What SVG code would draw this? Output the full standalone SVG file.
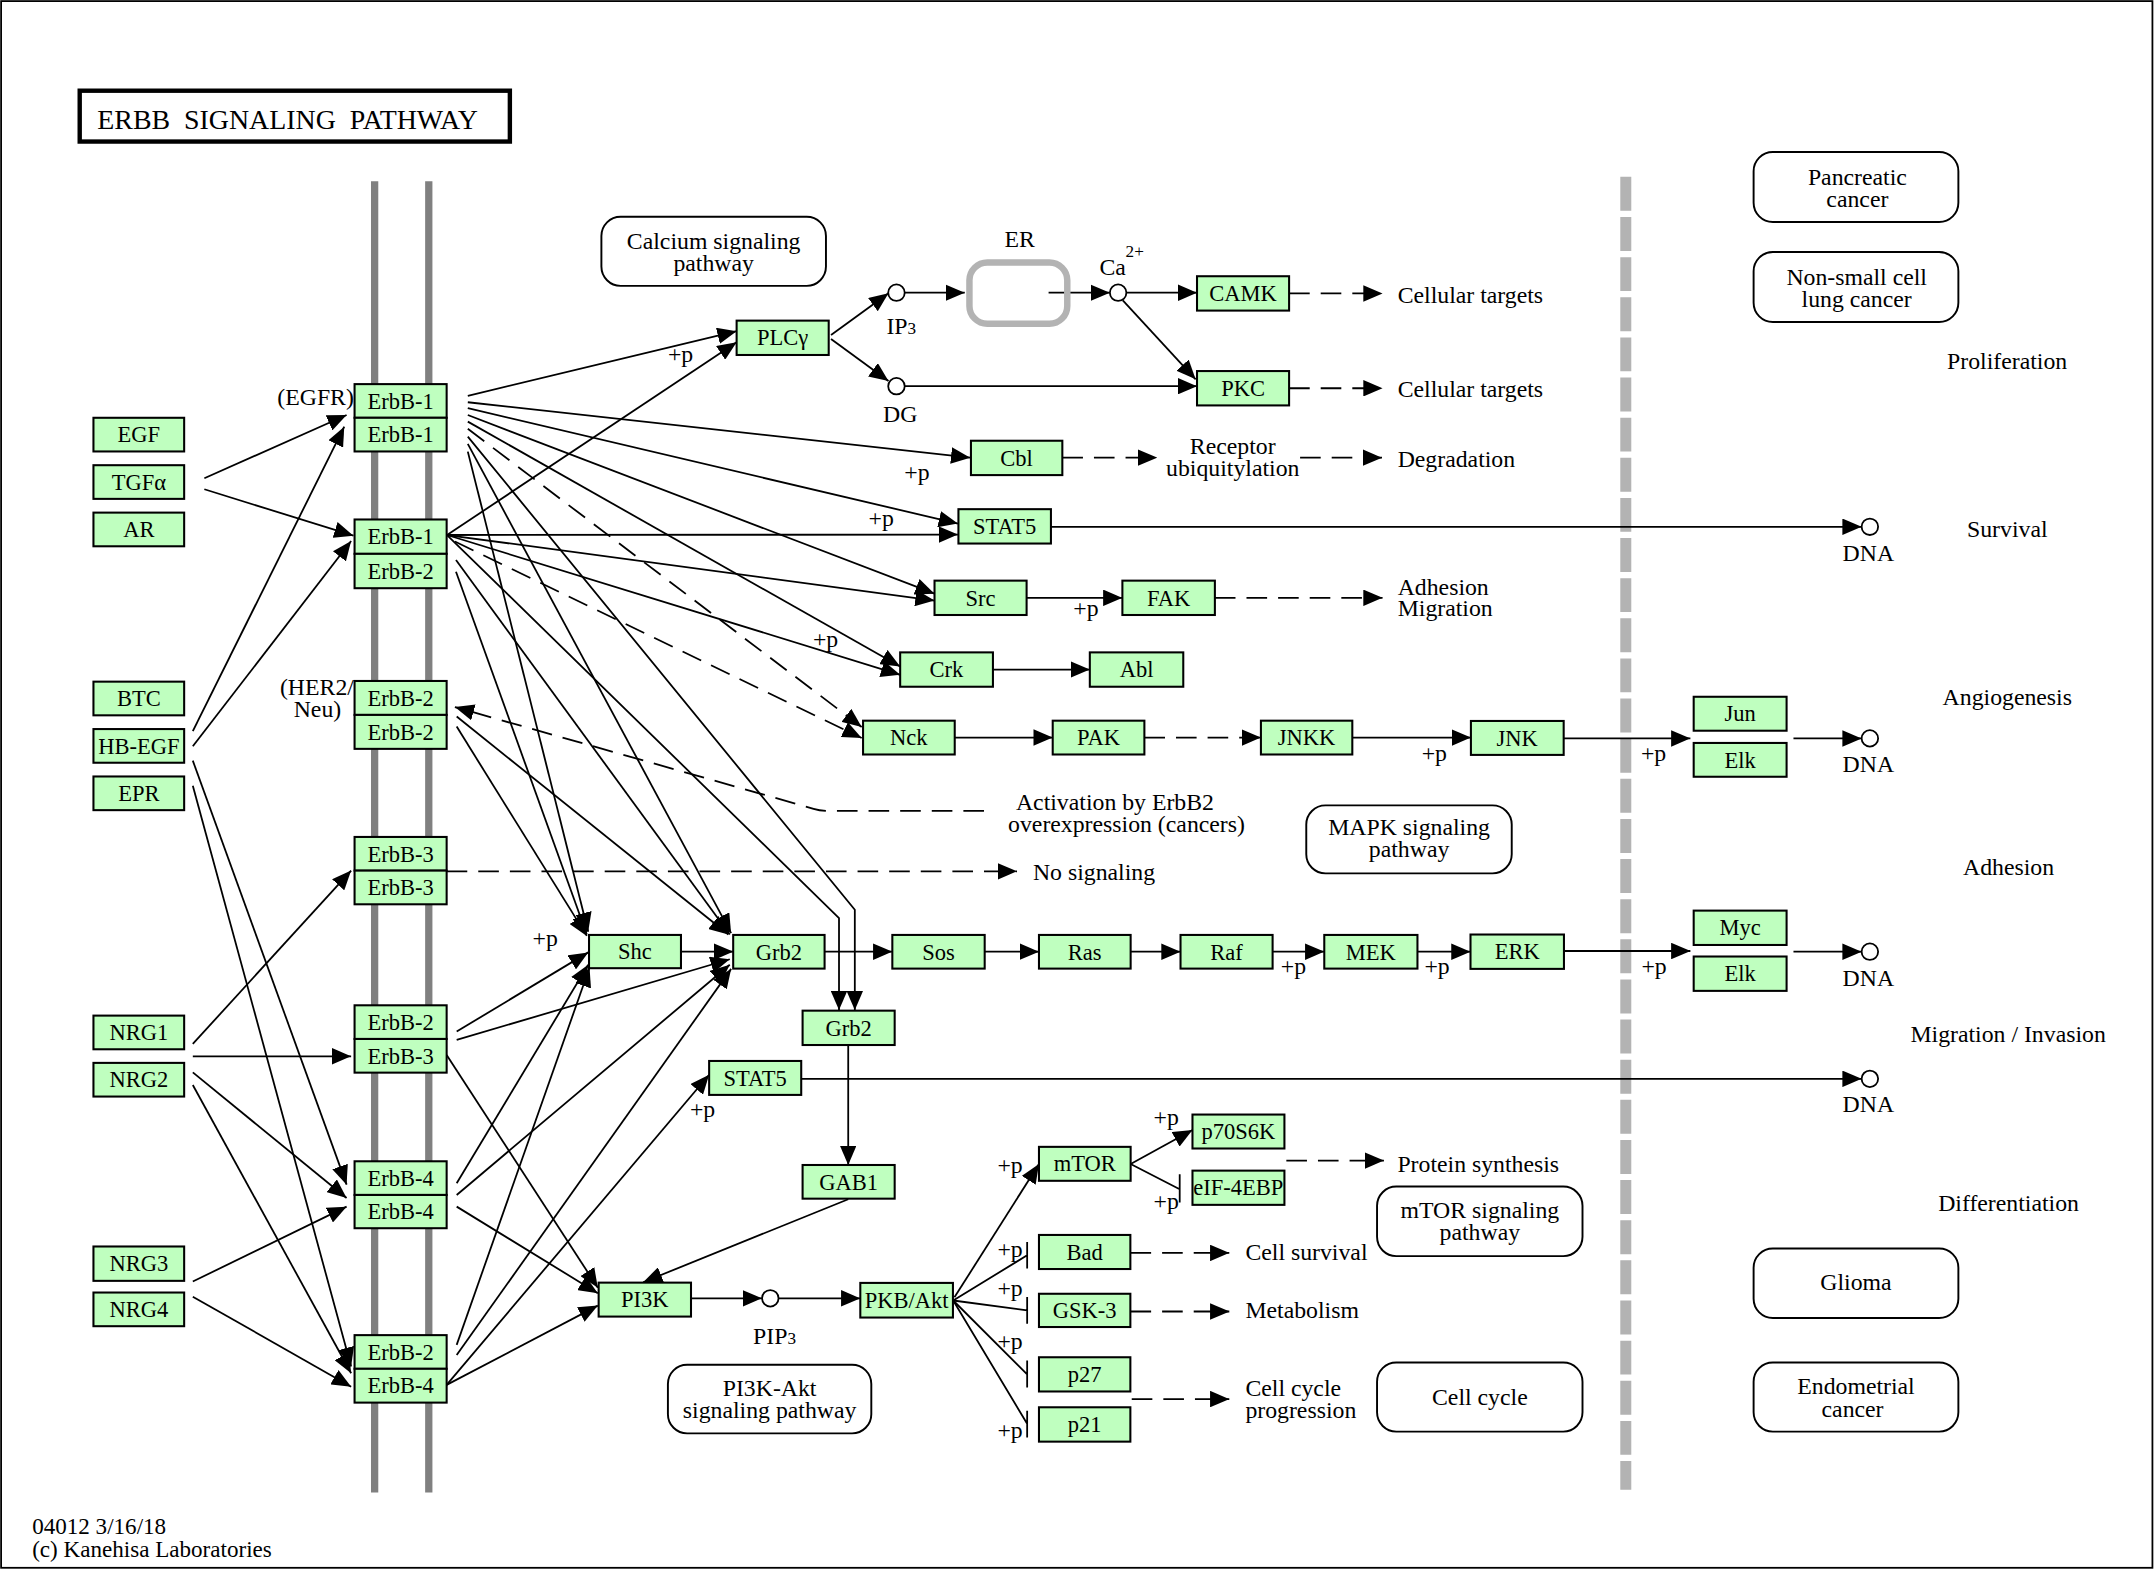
<svg xmlns="http://www.w3.org/2000/svg" width="2155" height="1570" viewBox="0 0 2155 1570">
<style>
text{font-family:"Liberation Serif","Times New Roman",serif;font-size:17.3px;fill:#000}
.n rect{fill:#bfffbf;stroke:#000;stroke-width:1.5}
.n text{font-size:16.4px;text-anchor:middle}
.m rect{fill:#fff;stroke:#000;stroke-width:1.4}
.m text{text-anchor:middle}
.c{text-anchor:middle}
.e{text-anchor:end}
.cp circle{fill:#fff;stroke:#000;stroke-width:1.3}
#conn path{fill:none;stroke:#000;stroke-width:1.3}
#conn .d{stroke-dasharray:15 8}
#conn .a{marker-end:url(#ar)}
.sub{font-size:12.5px}
.t{font-size:20.3px;white-space:pre}
.f{font-size:16.8px}
</style>
<defs>
<marker id="ar" viewBox="0 0 14 12" refX="14" refY="6" markerWidth="14" markerHeight="12" markerUnits="userSpaceOnUse" orient="auto"><path d="M0,0L14,6L0,12z" fill="#000"/></marker>
</defs>
<rect x="0" y="0" width="2155" height="1570" fill="#fff"/>
<g transform="scale(1.3743)">
<rect x="0.8" y="0.8" width="1565.4" height="1140" fill="none" stroke="#000" stroke-width="1.3"/>
<g id="title"><rect x="58" y="66" width="313" height="37" fill="#fff" stroke="#000" stroke-width="3.2"/>
<text class="t" x="70.8" y="94" xml:space="preserve">ERBB  SIGNALING  PATHWAY</text></g>
<g id="membrane" stroke="#808080" stroke-width="5.3"><path d="M272.6,131.8V1086M312,131.8V1086"/></g>
<g id="nucleus-boundary"><path d="M1183,128.7V1084" stroke="#b3b3b3" stroke-width="8" stroke-dasharray="24.7 4.5"/></g>

<g id="conn">
<path class="a" d="M148.7,348L252.2,302"/>
<path class="a" d="M148.7,356L257.2,389.8"/>
<path class="a" d="M140.3,532L250.5,310.5"/>
<path class="a" d="M140.3,543L255.5,393.7"/>
<path class="a" d="M140.3,553.5L252.2,862"/>
<path class="a" d="M140.3,571.7L255.5,994.4"/>
<path class="a" d="M140.3,759.6L255.5,633.5"/>
<path class="a" d="M140.3,768.6L255.5,768.6"/>
<path class="a" d="M140.3,780.3L252.2,871.7"/>
<path class="a" d="M140.3,789.5L255.5,999.2"/>
<path class="a" d="M140.3,932.5L252.2,878"/>
<path class="a" d="M140.3,943.5L255.5,1009"/>
<path class="a" d="M340.4,288L536,241"/>
<path class="a" d="M340.4,292.7L706,333"/>
<path class="a" d="M340.4,297L697,381"/>
<path class="a" d="M340.4,302L680,432"/>
<path class="a" d="M340.4,306.8L655,485"/>
<path class="a d" d="M340.4,312L627,529"/>
<path class="a" d="M340.4,317.7L622,662L622,735"/>
<path class="a" d="M340.4,323L532,679"/>
<path class="a" d="M340.4,328.6L428,678"/>
<path class="a" d="M325.3,389.3L536,249"/>
<path class="a" d="M325.3,389.3L697,389"/>
<path class="a" d="M325.3,389.3L680,437"/>
<path class="a" d="M325.3,389.3L655,491"/>
<path class="a d" d="M331,394L627,537"/>
<path class="a" d="M325.3,389.3L610.5,668L610.5,735"/>
<path class="a" d="M331.8,407.5L531,680"/>
<path class="a" d="M331.8,416L427,680"/>
<path class="a" d="M332.3,521.4L530,680"/>
<path class="a" d="M332.3,528.7L427,681"/>
<path class="a d" d="M716,590L603,590Q597,590 592,588.5L331,514.5"/>
<path class="a d" d="M325,634L740,634"/>
<path class="a" d="M332.3,750.6L428,693"/>
<path class="a" d="M332.3,756.7L531,698"/>
<path class="a" d="M325,767.6L435,937"/>
<path class="a" d="M332.3,861L428,702"/>
<path class="a" d="M332.3,869.5L531,702"/>
<path class="a" d="M332.3,878L435,941"/>
<path class="a" d="M332.3,978.6L429,704"/>
<path class="a" d="M332.3,986L532,705"/>
<path class="a" d="M325,1007.7L516,782"/>
<path class="a" d="M325,1007.7L435,950"/>
<path class="a" d="M604.7,243.8L646.5,213.4"/>
<path class="a" d="M604.7,246.7L646.5,277.3"/>
<path class="a" d="M658.3,213L702,213"/>
<path class="a" d="M763,213L807.6,213"/>
<path class="a" d="M819.6,213L871,213"/>
<path class="a" d="M817,218.5L870,276"/>
<path class="a" d="M658.3,281L871,281"/>
<path class="a d" d="M938,213.5L1006,213.5"/>
<path class="a d" d="M938,282.5L1006,282.5"/>
<path class="a d" d="M773,333L842,333"/>
<path class="a d" d="M946,333L1005.6,333"/>
<path class="a" d="M764.7,383.3L1354.6,383.3"/>
<path class="a" d="M747,435L816.7,435"/>
<path class="a d" d="M884,435L1006,435"/>
<path class="a" d="M722.5,487.2L793,487.2"/>
<path class="a" d="M694.7,536.7L766,536.7"/>
<path class="a d" d="M832.7,536.7L917.5,536.7"/>
<path class="a" d="M984,536.7L1070.3,536.7"/>
<path class="a" d="M1137.8,537.3L1230,537.3"/>
<path class="a" d="M1305,537.3L1354.6,537.3"/>
<path class="a" d="M495.5,692.5L533.5,692.5"/>
<path class="a" d="M600,692.5L649.3,692.5"/>
<path class="a" d="M716.5,692.5L756,692.5"/>
<path class="a" d="M822.7,692.5L859,692.5"/>
<path class="a" d="M926,692.5L963.6,692.5"/>
<path class="a" d="M1031.4,692.5L1070,692.5"/>
<path class="a" d="M1138,692L1230,692"/>
<path class="a" d="M1305,692.5L1354.6,692.5"/>
<path class="a" d="M583,785L1354.6,785"/>
<path class="a" d="M617.2,760.3L617.2,847.7"/>
<path class="a" d="M617.2,872.6L468,933"/>
<path class="a" d="M502.8,944.7L554.4,944.7"/>
<path class="a" d="M566.5,944.7L626,944.7"/>
<path class="a" d="M694.5,944L756,847"/>
<path d="M693.6,946.3L747.4,913.4M747.4,903.7V923.1"/>
<path d="M693.6,946.3L747.4,953.5M747.4,943.8V963.3"/>
<path d="M693.6,946.3L747.4,1000M747.4,990V1009.6"/>
<path d="M693.6,946.3L747.4,1036M747.4,1026.6V1046"/>
<path class="a" d="M822.7,847L867.7,822.3"/>
<path d="M822.7,847L858.4,865.4M858.4,854.5V875"/>
<path class="a d" d="M936,844.5L1007,844.5"/>
<path class="a d" d="M822.6,911.7L894.5,911.7"/>
<path class="a d" d="M822.6,954.3L894.5,954.3"/>
<path class="a d" d="M823.5,1018L894.5,1018"/>
</g>

<g id="n-EGF" class="n"><rect x="68" y="304" width="66" height="24.5"/><text x="101" y="321.9">EGF</text></g>
<g id="n-TGFa" class="n"><rect x="68" y="338.5" width="66" height="24.5"/><text x="101" y="356.4">TGFα</text></g>
<g id="n-AR" class="n"><rect x="68" y="373" width="66" height="24.5"/><text x="101" y="390.9">AR</text></g>
<g id="n-BTC" class="n"><rect x="68" y="496" width="66" height="24.5"/><text x="101" y="513.9">BTC</text></g>
<g id="n-HBEGF" class="n"><rect x="68" y="530.5" width="66" height="24.5"/><text x="101" y="548.4">HB-EGF</text></g>
<g id="n-EPR" class="n"><rect x="68" y="565" width="66" height="24.5"/><text x="101" y="582.9">EPR</text></g>
<g id="n-NRG1" class="n"><rect x="68" y="739" width="66" height="24.5"/><text x="101" y="756.9">NRG1</text></g>
<g id="n-NRG2" class="n"><rect x="68" y="773.4" width="66" height="24.5"/><text x="101" y="791.3">NRG2</text></g>
<g id="n-NRG3" class="n"><rect x="68" y="907" width="66" height="25"/><text x="101" y="925.1">NRG3</text></g>
<g id="n-NRG4" class="n"><rect x="68" y="940.5" width="66" height="24.5"/><text x="101" y="958.4">NRG4</text></g>

<g id="r-EGFR" class="n"><rect x="258" y="279.5" width="67" height="24.5"/><rect x="258" y="304" width="67" height="24.5"/><text x="291.5" y="297.4">ErbB-1</text><text x="291.5" y="321.9">ErbB-1</text></g>
<g id="r-ErbB1-ErbB2" class="n"><rect x="258" y="378" width="67" height="25"/><rect x="258" y="403" width="67" height="25"/><text x="291.5" y="396.1">ErbB-1</text><text x="291.5" y="421.1">ErbB-2</text></g>
<g id="r-HER2" class="n"><rect x="258" y="495.5" width="67" height="24.7"/><rect x="258" y="520.2" width="67" height="24.7"/><text x="291.5" y="513.4">ErbB-2</text><text x="291.5" y="538.1">ErbB-2</text></g>
<g id="r-ErbB3" class="n"><rect x="258" y="609" width="67" height="24.5"/><rect x="258" y="633.5" width="67" height="24.5"/><text x="291.5" y="626.9">ErbB-3</text><text x="291.5" y="651.4">ErbB-3</text></g>
<g id="r-ErbB2-ErbB3" class="n"><rect x="258" y="731.5" width="67" height="24.5"/><rect x="258" y="756" width="67" height="24.5"/><text x="291.5" y="749.4">ErbB-2</text><text x="291.5" y="773.9">ErbB-3</text></g>
<g id="r-ErbB4" class="n"><rect x="258" y="845" width="67" height="24.5"/><rect x="258" y="869.5" width="67" height="24.2"/><text x="291.5" y="862.9">ErbB-4</text><text x="291.5" y="887.2">ErbB-4</text></g>
<g id="r-ErbB2-ErbB4" class="n"><rect x="258" y="971.5" width="67" height="24.5"/><rect x="258" y="996" width="67" height="24.6"/><text x="291.5" y="989.4">ErbB-2</text><text x="291.5" y="1013.9">ErbB-4</text></g>
<text class="e" x="257.5" y="295">(EGFR)</text>
<text class="e" x="257.5" y="505.7">(HER2/</text>
<text class="c" x="231" y="521.7">Neu)</text>

<g id="n-PLCg" class="n"><rect x="536" y="233.3" width="67" height="25"/><text x="569.5" y="251.4">PLCγ</text></g>
<g id="n-CAMK" class="n"><rect x="871" y="201" width="67" height="25"/><text x="904.5" y="219.1">CAMK</text></g>
<g id="n-PKC" class="n"><rect x="871" y="270" width="67" height="25"/><text x="904.5" y="288.1">PKC</text></g>
<g id="n-Cbl" class="n"><rect x="706.5" y="320.7" width="66.5" height="25"/><text x="739.7" y="338.8">Cbl</text></g>
<g id="n-STAT5a" class="n"><rect x="697.4" y="370.5" width="67.3" height="25"/><text x="731" y="388.6">STAT5</text></g>
<g id="n-Src" class="n"><rect x="680" y="422.5" width="67" height="25"/><text x="713.5" y="440.6">Src</text></g>
<g id="n-FAK" class="n"><rect x="816.7" y="422.5" width="67.3" height="25"/><text x="850.3" y="440.6">FAK</text></g>
<g id="n-Crk" class="n"><rect x="655" y="474.7" width="67.5" height="25"/><text x="688.7" y="492.8">Crk</text></g>
<g id="n-Abl" class="n"><rect x="793" y="474.7" width="68" height="25"/><text x="827" y="492.8">Abl</text></g>
<g id="n-Nck" class="n"><rect x="628" y="524.4" width="66.7" height="24.6"/><text x="661.3" y="542.3">Nck</text></g>
<g id="n-PAK" class="n"><rect x="766" y="524.4" width="66.7" height="24.6"/><text x="799.3" y="542.3">PAK</text></g>
<g id="n-JNKK" class="n"><rect x="917.5" y="524.4" width="66.5" height="24.6"/><text x="950.7" y="542.3">JNKK</text></g>
<g id="n-JNK" class="n"><rect x="1070.3" y="524.6" width="67.5" height="24.7"/><text x="1104" y="542.5">JNK</text></g>
<g id="n-Jun" class="n"><rect x="1232.4" y="507" width="67.6" height="24.7"/><text x="1266.2" y="524.9">Jun</text></g>
<g id="n-Elk1" class="n"><rect x="1232.4" y="540.6" width="67.6" height="24.6"/><text x="1266.2" y="558.5">Elk</text></g>
<g id="n-Shc" class="n"><rect x="428.6" y="680.3" width="66.9" height="24.2"/><text x="462" y="698">Shc</text></g>
<g id="n-Grb2a" class="n"><rect x="533.5" y="680.3" width="66.5" height="24.5"/><text x="566.7" y="698.2">Grb2</text></g>
<g id="n-Sos" class="n"><rect x="649.3" y="680.3" width="67.2" height="24.5"/><text x="682.9" y="698.2">Sos</text></g>
<g id="n-Ras" class="n"><rect x="756" y="680.3" width="66.7" height="24.5"/><text x="789.3" y="698.2">Ras</text></g>
<g id="n-Raf" class="n"><rect x="859" y="680.3" width="67" height="24.5"/><text x="892.5" y="698.2">Raf</text></g>
<g id="n-MEK" class="n"><rect x="963.6" y="680.3" width="67.8" height="24.5"/><text x="997.5" y="698.2">MEK</text></g>
<g id="n-ERK" class="n"><rect x="1070" y="680" width="68" height="25"/><text x="1104" y="698.1">ERK</text></g>
<g id="n-Myc" class="n"><rect x="1232.4" y="662.6" width="67.6" height="25"/><text x="1266.2" y="680.7">Myc</text></g>
<g id="n-Elk2" class="n"><rect x="1232.4" y="696" width="67.6" height="25"/><text x="1266.2" y="714.1">Elk</text></g>
<g id="n-Grb2b" class="n"><rect x="584" y="735.4" width="67" height="25"/><text x="617.5" y="753.5">Grb2</text></g>
<g id="n-STAT5b" class="n"><rect x="516" y="772" width="67" height="24.7"/><text x="549.5" y="789.9">STAT5</text></g>
<g id="n-GAB1" class="n"><rect x="584" y="847.7" width="67" height="24.5"/><text x="617.5" y="865.6">GAB1</text></g>
<g id="n-PI3K" class="n"><rect x="435.6" y="933.3" width="67.2" height="24.7"/><text x="469.2" y="951.2">PI3K</text></g>
<g id="n-PKBAkt" class="n"><rect x="626" y="933.5" width="67.4" height="25.2"/><text x="659.7" y="951.7">PKB/Akt</text></g>
<g id="n-mTOR" class="n"><rect x="756" y="834.5" width="66.7" height="24.7"/><text x="789.3" y="852.4">mTOR</text></g>
<g id="n-p70S6K" class="n"><rect x="867.7" y="811" width="66.9" height="24.7"/><text x="901.1" y="828.9">p70S6K</text></g>
<g id="n-eIF4EBP" class="n"><rect x="867.7" y="851.8" width="66.9" height="24.9"/><text x="901.1" y="869.8">eIF-4EBP</text></g>
<g id="n-Bad" class="n"><rect x="756" y="898.6" width="66.5" height="24.8"/><text x="789.2" y="916.6">Bad</text></g>
<g id="n-GSK3" class="n"><rect x="756" y="941.4" width="66.5" height="24.2"/><text x="789.2" y="959.1">GSK-3</text></g>
<g id="n-p27" class="n"><rect x="756" y="987.6" width="66.5" height="24.9"/><text x="789.2" y="1005.6">p27</text></g>
<g id="n-p21" class="n"><rect x="756" y="1024" width="66.5" height="25"/><text x="789.2" y="1042.1">p21</text></g>

<g id="c-IP3" class="cp"><circle cx="652.3" cy="213" r="6"/><text x="645" y="243">IP<tspan class="sub">3</tspan></text></g>
<g id="c-DG" class="cp"><circle cx="652.3" cy="281" r="6"/><text class="c" x="655" y="307">DG</text></g>
<g id="c-Ca" class="cp"><circle cx="813.6" cy="213" r="6"/><text x="800" y="200">Ca</text><text class="sub" x="819" y="187">2+</text></g>
<g id="c-PIP3" class="cp"><circle cx="560.5" cy="944.7" r="6"/><text x="548" y="978">PIP<tspan class="sub">3</tspan></text></g>
<g id="c-DNA1" class="cp"><circle cx="1360.6" cy="383.3" r="6"/><text class="c" x="1359.5" y="408">DNA</text></g>
<g id="c-DNA2" class="cp"><circle cx="1360.6" cy="537.3" r="6"/><text class="c" x="1359.5" y="562">DNA</text></g>
<g id="c-DNA3" class="cp"><circle cx="1360.6" cy="692.5" r="6"/><text class="c" x="1359.5" y="717.5">DNA</text></g>
<g id="c-DNA4" class="cp"><circle cx="1360.6" cy="785" r="6"/><text class="c" x="1359.5" y="809.5">DNA</text></g>
<g id="ER"><rect x="705.4" y="191" width="71.2" height="44.6" rx="13" fill="none" stroke="#b3b3b3" stroke-width="4.7"/><text class="c" x="742" y="180">ER</text></g>

<g id="m-calcium" class="m"><rect x="437.6" y="157.7" width="163.4" height="50.3" rx="14"/><text x="519.3" y="181">Calcium signaling</text><text x="519.3" y="197">pathway</text></g>
<g id="m-mapk" class="m"><rect x="950.5" y="586" width="149.5" height="49.5" rx="14"/><text x="1025.3" y="607.5">MAPK signaling</text><text x="1025.3" y="623.5">pathway</text></g>
<g id="m-mtor" class="m"><rect x="1002" y="863.4" width="149.5" height="50.6" rx="14"/><text x="1076.8" y="886.5">mTOR signaling</text><text x="1076.8" y="902.5">pathway</text></g>
<g id="m-pi3k" class="m"><rect x="486" y="993" width="148" height="50" rx="14"/><text x="560" y="1015.5">PI3K-Akt</text><text x="560" y="1031.5">signaling pathway</text></g>
<g id="m-cellcycle" class="m"><rect x="1002" y="991.4" width="149.5" height="50.3" rx="14"/><text x="1076.8" y="1022">Cell cycle</text></g>
<g id="m-pancreatic" class="m"><rect x="1276" y="110.6" width="149" height="50.9" rx="14"/><text x="1351.5" y="134.5">Pancreatic</text><text x="1351.5" y="150.7">cancer</text></g>
<g id="m-nsclc" class="m"><rect x="1276" y="183.4" width="149" height="50.9" rx="14"/><text x="1351" y="207.3">Non-small cell</text><text x="1351" y="223.5">lung cancer</text></g>
<g id="m-glioma" class="m"><rect x="1276" y="908.5" width="149" height="50.5" rx="14"/><text x="1350.5" y="939">Glioma</text></g>
<g id="m-endometrial" class="m"><rect x="1276" y="991.4" width="149" height="50.3" rx="14"/><text x="1350.5" y="1014.5">Endometrial</text><text x="1348" y="1031">cancer</text></g>

<g id="labels">
<text x="486" y="263.5">+p</text>
<text x="658" y="349">+p</text>
<text x="632" y="382.5">+p</text>
<text x="781" y="448">+p</text>
<text x="591.5" y="471">+p</text>
<text x="1034.5" y="553.5">+p</text>
<text x="1194" y="553.5">+p</text>
<text x="387.5" y="688">+p</text>
<text x="932" y="708.5">+p</text>
<text x="1036.5" y="708.7">+p</text>
<text x="1194.4" y="708.7">+p</text>
<text x="502" y="812.5">+p</text>
<text x="839.4" y="818.6">+p</text>
<text x="839.4" y="879.6">+p</text>
<text x="725.8" y="853.6">+p</text>
<text x="725.8" y="914.6">+p</text>
<text x="725.8" y="943">+p</text>
<text x="725.8" y="981.6">+p</text>
<text x="725.8" y="1046">+p</text>
<text x="1017" y="220.5">Cellular targets</text>
<text x="1017" y="289">Cellular targets</text>
<text class="c" x="897" y="330">Receptor</text>
<text class="c" x="897" y="346.6">ubiquitylation</text>
<text x="1017" y="340">Degradation</text>
<text x="1017" y="432.6">Adhesion</text>
<text x="1017" y="448.5">Migration</text>
<text class="c" x="811.3" y="589.4">Activation by ErbB2</text>
<text class="c" x="819.7" y="605.4">overexpression (cancers)</text>
<text x="751.6" y="640.6">No signaling</text>
<text x="1016.8" y="852.6">Protein synthesis</text>
<text x="906.2" y="917">Cell survival</text>
<text x="906.2" y="959">Metabolism</text>
<text x="906.2" y="1015.5">Cell cycle</text>
<text x="906.2" y="1032">progression</text>
<text class="c" x="1460.5" y="268.3">Proliferation</text>
<text class="c" x="1460.6" y="390.4">Survival</text>
<text class="c" x="1460.6" y="513">Angiogenesis</text>
<text class="c" x="1461.5" y="636.7">Adhesion</text>
<text class="c" x="1461.2" y="758.5">Migration / Invasion</text>
<text class="c" x="1461.5" y="881">Differentiation</text>
<text class="f" x="23.4" y="1116.4">04012 3/16/18</text>
<text class="f" x="23.4" y="1133.2">(c) Kanehisa Laboratories</text>
</g>
</g>
</svg>
